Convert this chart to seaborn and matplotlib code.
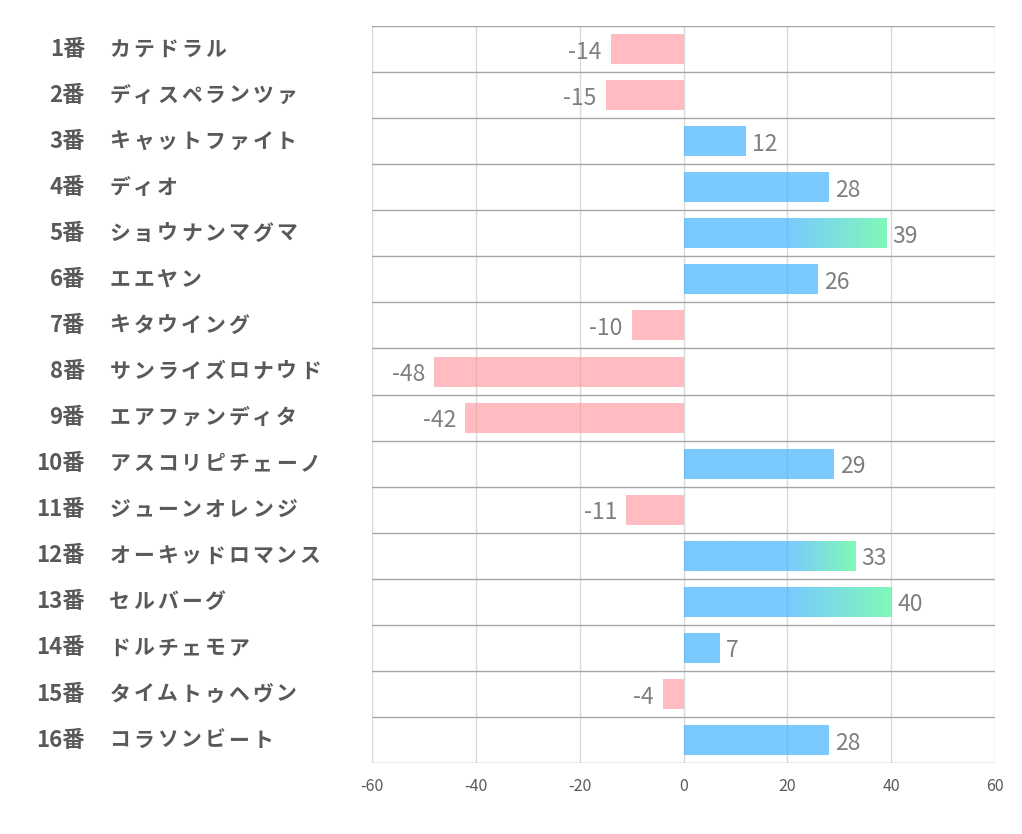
import numpy as np
import pandas as pd
import matplotlib
matplotlib.use("Agg")
import matplotlib.pyplot as plt
import matplotlib.colors as mcolors
from matplotlib.transforms import blended_transform_factory
import seaborn as sns

# chart data
gate_numbers = ["1番", "2番", "3番", "4番", "5番", "6番", "7番", "8番",
                "9番", "10番", "11番", "12番", "13番", "14番", "15番", "16番"]
horse_names = ["カテドラル", "ディスペランツァ", "キャットファイト", "ディオ",
               "ショウナンマグマ", "エエヤン", "キタウイング", "サンライズロナウド",
               "エアファンディタ", "アスコリピチェーノ", "ジューンオレンジ",
               "オーキッドロマンス", "セルバーグ", "ドルチェモア", "タイムトゥヘヴン",
               "コラソンビート"]
scores = [-14, -15, 12, 28, 39, 26, -10, -48, -42, 29, -11, 33, 40, 7, -4, 28]
x_ticks = [-60, -40, -20, 0, 20, 40, 60]

BLUE = "#4DB8FF"
GREEN = "#55F7A0"
PINK = "#FF9AA0"
TEXT = "#595959"

sns.set_theme(style="white")
plt.rcParams["font.family"] = ["Noto Sans CJK JP", "DejaVu Sans"]
plt.rcParams["axes.unicode_minus"] = False

df = pd.DataFrame({"label": [f"{g} {n}" for g, n in zip(gate_numbers, horse_names)],
                   "score": scores})

fig = plt.figure(figsize=(10.22, 8.34), dpi=100)
ax = fig.add_axes([0.364, 0.085, 0.6096, 0.8838])

sns.barplot(data=df, x="score", y="label", orient="h", color=BLUE,
            width=0.65, ax=ax, zorder=3, saturation=1)

blue_rgb = np.array(mcolors.to_rgb(BLUE))
green_rgb = np.array(mcolors.to_rgb(GREEN))

for i, (patch, s) in enumerate(zip(ax.patches, scores)):
    patch.set_edgecolor("none")
    if s < 0:
        patch.set_facecolor(mcolors.to_rgba(PINK, 0.65))
    elif s > 30:
        # blue -> green fade starting from 20
        xs = np.linspace(0, s, 400)
        t = np.clip((xs - 20) / (s - 20), 0, 1)[:, None]
        rgb = blue_rgb * (1 - t) + green_rgb * t
        img = np.concatenate([rgb, np.full((len(xs), 1), 0.75)], axis=1)[None, :, :]
        y0 = patch.get_y()
        y1 = y0 + patch.get_height()
        im = ax.imshow(img, extent=[0, s, y1, y0], aspect="auto", zorder=3,
                       interpolation="bilinear")
        im.set_clip_path(patch)
        patch.set_facecolor("none")
    else:
        patch.set_facecolor(mcolors.to_rgba(BLUE, 0.75))

    if s > 0:
        ax.annotate(str(s), (s, i), xytext=(6, -3), textcoords="offset pixels",
                    ha="left", va="center", fontsize=16.5, color="#7F7F7F")
    else:
        ax.annotate(str(s), (s, i), xytext=(-9, -3), textcoords="offset pixels",
                    ha="right", va="center", fontsize=16.5, color="#7F7F7F")

ax.set_xlim(-60, 60)
ax.set_ylim(len(scores) - 0.5, -0.5)
ax.set_xticks(x_ticks)
ax.set_xticklabels([str(v) for v in x_ticks])
ax.grid(axis="x", color="#D9D9D9", linewidth=1)
ax.grid(axis="y", visible=False)
ax.set_axisbelow(True)
for yb in np.arange(-0.5, len(scores), 1):
    ax.axhline(yb, color="#A6A6A6", linewidth=1, zorder=1)
for sp in ax.spines.values():
    sp.set_visible(False)

ax.set_yticks(range(len(scores)))
ax.set_yticklabels([])
ax.tick_params(axis="y", left=False)
ax.tick_params(axis="x", length=0, pad=11, labelsize=11.5, labelcolor=TEXT)
ax.set_xlabel("")
ax.set_ylabel("")

# row labels: gate number right-aligned, horse name with wide kana spacing
trans = blended_transform_factory(fig.transFigure, ax.transData)
char_step = 23.8 / 1022
for i, (g, n) in enumerate(zip(gate_numbers, horse_names)):
    ax.text(85 / 1022, i, g, transform=trans, ha="right", va="center",
            fontsize=16, fontweight="bold", color=TEXT)
    for k, ch in enumerate(n):
        ax.text(108 / 1022 + (k + 0.5) * char_step, i, ch, transform=trans,
                ha="center", va="center", fontsize=15, fontweight="bold",
                color=TEXT)

fig.savefig("out.png", dpi=100)
